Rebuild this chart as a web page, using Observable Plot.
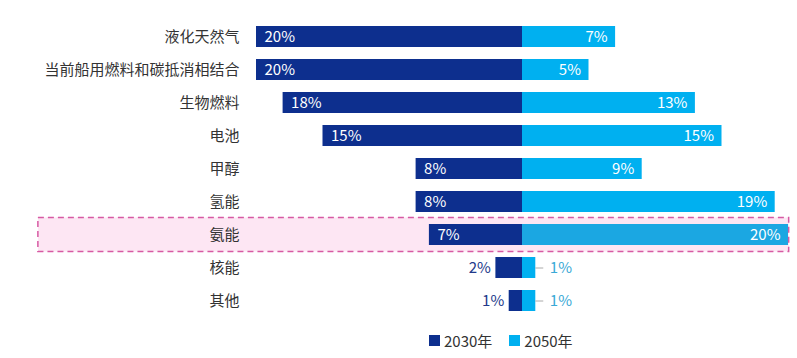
<!DOCTYPE html>
<html>
<head>
<meta charset="utf-8">
<script src="https://cdn.jsdelivr.net/npm/d3@7"></script>
<script src="https://cdn.jsdelivr.net/npm/@observablehq/plot@0.6"></script>
<style>
  body { margin: 0; background: #fff; font-family: "Noto Sans CJK SC", "Noto Sans", sans-serif; }
  #legend { display: flex; align-items: center; height: 32px; padding-left: 429px; font-size: 15px; color: #333; }
  #legend .sw { width: 11px; height: 11px; display: inline-block; margin-right: 4px; }
  #legend .item { display: inline-flex; align-items: center; margin-right: 17px; }
</style>
</head>
<body>
<div id="chart"></div>
<script>
const categories = ["液化天然气", "当前船用燃料和碳抵消相结合", "生物燃料", "电池", "甲醇", "氢能", "氨能", "核能", "其他"];
const values2030 = [20, 20, 18, 15, 8, 8, 7, 2, 1];
const values2050 = [7, 5, 13, 15, 9, 19, 20, 1, 1];
const seriesNames = ["2030年", "2050年"];
const highlighted = "氨能";

const dark = "#0d2f8e";
const light = "#00b0f0";
const lightHl = "#1ba7e2";

const rows = categories.map((c, i) => ({cat: c, a: values2030[i], b: values2050[i]}));
const insideMin = 5;

const plot = Plot.plot({
  width: 797,
  height: 324,
  marginLeft: 256,
  marginRight: 9,
  marginTop: 13,
  marginBottom: 0,
  style: {fontFamily: "\"Noto Sans CJK SC\", \"Noto Sans\", sans-serif", fontSize: "15px", color: "#333", background: "white"},
  x: {domain: [-20, 20], axis: null},
  y: {domain: categories, padding: 0.37, label: null},
  marks: [
    Plot.barX([{cat: highlighted}], {x1: -36.4, x2: 20.05, y: "cat", insetTop: -6.5, insetBottom: -6.5, fill: "#fde6f3"}),
    Plot.axisY({tickSize: 0, tickPadding: 17, label: null, fontSize: 15, fill: "#333"}),
    Plot.barX(rows, {x1: 0, x2: d => -d.a, y: "cat", fill: dark}),
    Plot.barX(rows, {x1: 0, x2: d => d.b, y: "cat", fill: d => d.cat === highlighted ? lightHl : light}),
    Plot.barX([{cat: highlighted}], {x1: -36.4, x2: 20.05, y: "cat", insetTop: -6.5, insetBottom: -6.5, fill: "none", stroke: "#d75aa3", strokeWidth: 1.5, strokeDasharray: "6,4"}),
    Plot.text(rows.filter(d => d.a >= insideMin), {x: d => -d.a, y: "cat", text: d => d.a + "%", textAnchor: "start", dx: 8, fill: "white", fontSize: 15}),
    Plot.text(rows.filter(d => d.a < insideMin), {x: d => -d.a, y: "cat", text: d => d.a + "%", textAnchor: "end", dx: -5, fill: "#22398a", fontSize: 15}),
    Plot.text(rows.filter(d => d.b >= insideMin), {x: d => d.b, y: "cat", text: d => d.b + "%", textAnchor: "end", dx: -8, fill: "white", fontSize: 15}),
    Plot.ruleY(rows.filter(d => d.b < insideMin), {y: "cat", x1: d => d.b, x2: d => d.b + 0.6, stroke: "#aaaaaa", strokeWidth: 1}),
    Plot.text(rows.filter(d => d.b < insideMin), {x: d => d.b, y: "cat", text: d => d.b + "%", textAnchor: "start", dx: 14, fill: "#3aa9d6", fontSize: 15})
  ]
});
document.getElementById("chart").appendChild(plot);

const legend = document.createElement("div");
legend.id = "legend";
[dark, light].forEach((col, i) => {
  const item = document.createElement("span");
  item.className = "item";
  const sw = document.createElement("span");
  sw.className = "sw";
  sw.style.background = col;
  item.appendChild(sw);
  item.appendChild(document.createTextNode(seriesNames[i]));
  legend.appendChild(item);
});
document.body.appendChild(legend);
</script>
</body>
</html>
